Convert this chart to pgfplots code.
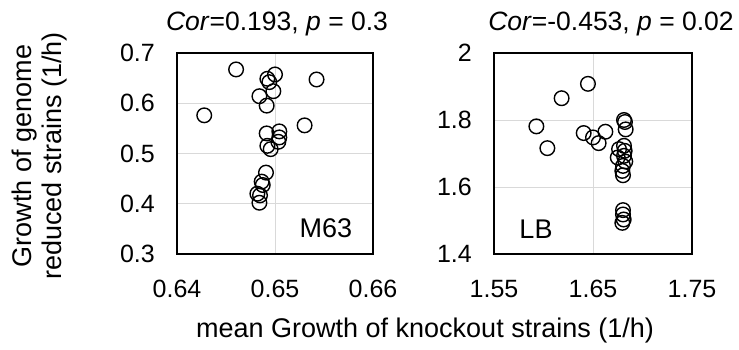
\documentclass[border=0pt]{standalone}
\usepackage{fontspec}
\setmainfont{Liberation Sans}
\usepackage{pgfplots}
\pgfplotsset{compat=1.18}
\begin{document}
\begin{tikzpicture}[x=1pt,y=1pt]
\path[use as bounding box] (0,0) rectangle (739,349);
\pgfplotsset{
 myax/.style={
  scale only axis, height=201pt, anchor=south west,
  axis line style={line width=2.5pt, black},
  grid=major, major grid style={line width=1pt, color=black!15},
  major tick length=0pt,
  tick label style={font=\fontsize{25}{28}\selectfont},
  yticklabel style={inner sep=0pt, xshift=-22pt},
  xticklabel style={inner sep=0pt, yshift=-26pt},
 },
 mk/.style={only marks, mark=o, mark size=7.3pt, mark options={line width=1.4pt, black}}
}
\begin{axis}[myax, width=196pt, at={(177pt,95pt)},
  xmin=0.64, xmax=0.66, ymin=0.3, ymax=0.7,
  xtick={0.64,0.65,0.66}, xticklabels={0.64,0.65,0.66},
  ytick={0.3,0.4,0.5,0.6,0.7}, yticklabels={0.3,0.4,0.5,0.6,0.7}]
\addplot[mk] coordinates {
(0.64603,0.6673) (0.64278,0.576) (0.65424,0.6473) (0.65302,0.556)
(0.65000,0.6573) (0.64922,0.6487) (0.64942,0.642) (0.64983,0.624)
(0.64841,0.614) (0.64915,0.5953) (0.64915,0.540) (0.65044,0.544)
(0.65044,0.532) (0.65034,0.5233) (0.64922,0.5153) (0.64956,0.5087)
(0.64908,0.462) (0.64864,0.444) (0.64875,0.4373) (0.64820,0.420)
(0.64847,0.4167) (0.64841,0.402)
};
\end{axis}
\begin{axis}[myax, width=198pt, at={(494pt,95pt)},
  xmin=1.55, xmax=1.75, ymin=1.4, ymax=2,
  xtick={1.55,1.65,1.75}, xticklabels={1.55,1.65,1.75},
  ytick={1.4,1.6,1.8,2}, yticklabels={1.4,1.6,1.8,2}]
\addplot[mk] coordinates {
(1.6449,1.908) (1.6183,1.865) (1.5928,1.781) (1.6039,1.716)
(1.6406,1.761) (1.6500,1.748) (1.6557,1.731) (1.6625,1.765)
(1.6813,1.800) (1.6823,1.794) (1.6830,1.772) (1.6813,1.723)
(1.6763,1.713) (1.6820,1.708) (1.6813,1.693) (1.6750,1.688)
(1.6826,1.676) (1.6803,1.663) (1.6796,1.648) (1.6803,1.635)
(1.6803,1.531) (1.6803,1.518) (1.6810,1.503) (1.6796,1.493)
};
\end{axis}
\node[font=\fontsize{26.5}{30}\selectfont] at (277,325) {\textit{Cor}=0.193, \textit{p} = 0.3};
\node[font=\fontsize{26.5}{30}\selectfont] at (611,325) {\textit{Cor}=-0.453, \textit{p} = 0.02};
\node[font=\fontsize{27}{30}\selectfont] at (326,121) {M63};
\node[font=\fontsize{27}{30}\selectfont] at (536,120) {LB};
\node[font=\fontsize{27}{30}\selectfont] at (425,18) {mean Growth of knockout strains (1/h)};
\node[font=\fontsize{27}{30}\selectfont, rotate=90, align=center] at (40,193) {Growth of genome\\reduced strains (1/h)};
\end{tikzpicture}
\end{document}
